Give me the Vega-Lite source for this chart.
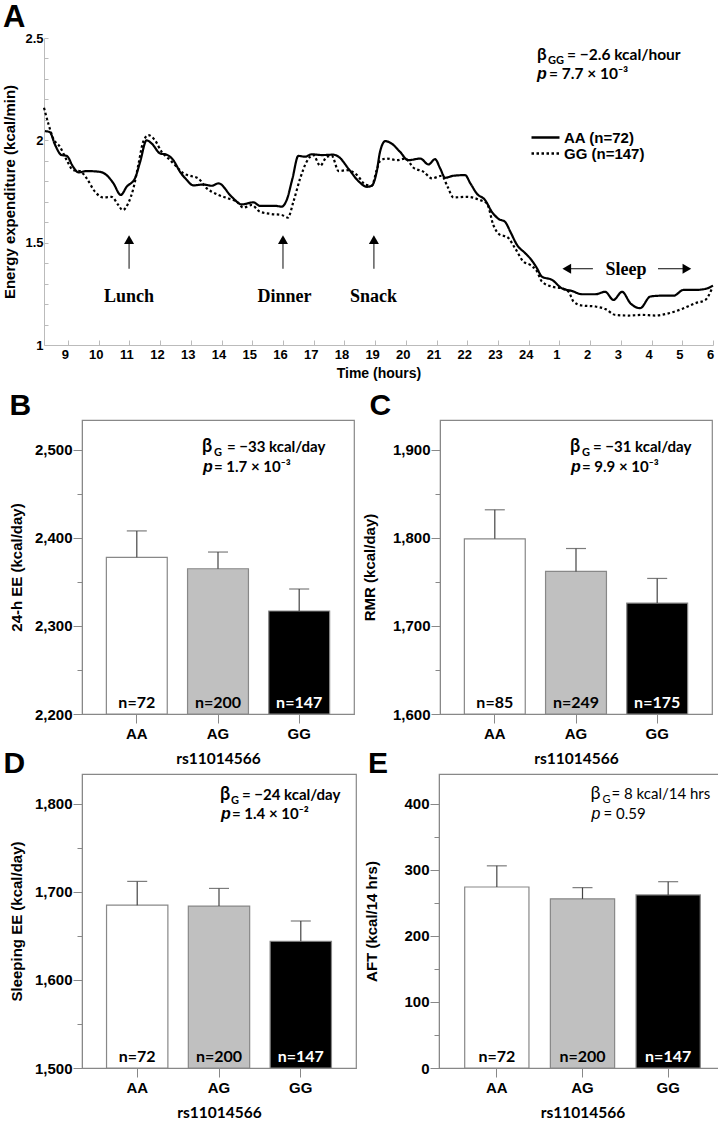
{
  "$schema": "https://vega.github.io/schema/vega-lite/v6.json",
  "padding": {"left": 2, "top": 2, "right": 2, "bottom": 0},
  "background": "white",
  "config": {
    "font": "Liberation Sans",
    "view": {"stroke": null},
    "axis": {"grid": false, "labelColor": "#000", "titleColor": "#000", "labelFontWeight": "bold", "titleFontWeight": "bold", "labelFont": "Liberation Sans", "titleFont": "Liberation Sans", "labelOverlap": false},
    "title": {"anchor": "start", "frame": "bounds", "font": "Liberation Sans", "fontSize": 30, "fontWeight": "bold", "baseline": "alphabetic", "color": "#000"}
  },
  "datasets": {
    "ee": [
      {"geno": "AA (n=72)", "t": 8.25, "v": 2.045}, {"geno": "AA (n=72)", "t": 8.41, "v": 2.04}, {"geno": "AA (n=72)", "t": 8.58, "v": 1.978}, {"geno": "AA (n=72)", "t": 8.79, "v": 1.928}, {"geno": "AA (n=72)", "t": 8.96, "v": 1.924}, {"geno": "AA (n=72)", "t": 9.17, "v": 1.87}, {"geno": "AA (n=72)", "t": 9.34, "v": 1.843}, {"geno": "AA (n=72)", "t": 9.61, "v": 1.85}, {"geno": "AA (n=72)", "t": 10.04, "v": 1.846}, {"geno": "AA (n=72)", "t": 10.26, "v": 1.83}, {"geno": "AA (n=72)", "t": 10.48, "v": 1.79}, {"geno": "AA (n=72)", "t": 10.72, "v": 1.733}, {"geno": "AA (n=72)", "t": 10.91, "v": 1.773}, {"geno": "AA (n=72)", "t": 11.18, "v": 1.814}, {"geno": "AA (n=72)", "t": 11.35, "v": 1.895}, {"geno": "AA (n=72)", "t": 11.56, "v": 2.0}, {"geno": "AA (n=72)", "t": 11.73, "v": 1.984}, {"geno": "AA (n=72)", "t": 12.0, "v": 1.936}, {"geno": "AA (n=72)", "t": 12.21, "v": 1.93}, {"geno": "AA (n=72)", "t": 12.43, "v": 1.903}, {"geno": "AA (n=72)", "t": 12.65, "v": 1.846}, {"geno": "AA (n=72)", "t": 12.87, "v": 1.806}, {"geno": "AA (n=72)", "t": 13.08, "v": 1.78}, {"geno": "AA (n=72)", "t": 13.41, "v": 1.784}, {"geno": "AA (n=72)", "t": 13.68, "v": 1.778}, {"geno": "AA (n=72)", "t": 13.9, "v": 1.79}, {"geno": "AA (n=72)", "t": 14.33, "v": 1.724}, {"geno": "AA (n=72)", "t": 14.66, "v": 1.687}, {"geno": "AA (n=72)", "t": 15.04, "v": 1.697}, {"geno": "AA (n=72)", "t": 15.25, "v": 1.68}, {"geno": "AA (n=72)", "t": 15.74, "v": 1.68}, {"geno": "AA (n=72)", "t": 15.96, "v": 1.676}, {"geno": "AA (n=72)", "t": 16.12, "v": 1.708}, {"geno": "AA (n=72)", "t": 16.31, "v": 1.814}, {"geno": "AA (n=72)", "t": 16.5, "v": 1.924}, {"geno": "AA (n=72)", "t": 16.72, "v": 1.92}, {"geno": "AA (n=72)", "t": 16.94, "v": 1.932}, {"geno": "AA (n=72)", "t": 17.26, "v": 1.928}, {"geno": "AA (n=72)", "t": 17.64, "v": 1.93}, {"geno": "AA (n=72)", "t": 17.81, "v": 1.92}, {"geno": "AA (n=72)", "t": 18.13, "v": 1.862}, {"geno": "AA (n=72)", "t": 18.46, "v": 1.8}, {"geno": "AA (n=72)", "t": 18.73, "v": 1.773}, {"geno": "AA (n=72)", "t": 18.89, "v": 1.778}, {"geno": "AA (n=72)", "t": 19.05, "v": 1.846}, {"geno": "AA (n=72)", "t": 19.16, "v": 1.944}, {"geno": "AA (n=72)", "t": 19.33, "v": 1.996}, {"geno": "AA (n=72)", "t": 19.54, "v": 1.984}, {"geno": "AA (n=72)", "t": 19.81, "v": 1.944}, {"geno": "AA (n=72)", "t": 20.08, "v": 1.903}, {"geno": "AA (n=72)", "t": 20.47, "v": 1.911}, {"geno": "AA (n=72)", "t": 20.74, "v": 1.882}, {"geno": "AA (n=72)", "t": 20.95, "v": 1.908}, {"geno": "AA (n=72)", "t": 21.12, "v": 1.862}, {"geno": "AA (n=72)", "t": 21.28, "v": 1.817}, {"geno": "AA (n=72)", "t": 21.55, "v": 1.827}, {"geno": "AA (n=72)", "t": 21.93, "v": 1.83}, {"geno": "AA (n=72)", "t": 22.1, "v": 1.79}, {"geno": "AA (n=72)", "t": 22.31, "v": 1.74}, {"geno": "AA (n=72)", "t": 22.58, "v": 1.708}, {"geno": "AA (n=72)", "t": 22.8, "v": 1.651}, {"geno": "AA (n=72)", "t": 23.02, "v": 1.616}, {"geno": "AA (n=72)", "t": 23.23, "v": 1.602}, {"geno": "AA (n=72)", "t": 23.4, "v": 1.554}, {"geno": "AA (n=72)", "t": 23.62, "v": 1.489}, {"geno": "AA (n=72)", "t": 23.89, "v": 1.448}, {"geno": "AA (n=72)", "t": 24.05, "v": 1.423}, {"geno": "AA (n=72)", "t": 24.27, "v": 1.375}, {"geno": "AA (n=72)", "t": 24.43, "v": 1.334}, {"geno": "AA (n=72)", "t": 24.76, "v": 1.318}, {"geno": "AA (n=72)", "t": 25.08, "v": 1.277}, {"geno": "AA (n=72)", "t": 25.41, "v": 1.264}, {"geno": "AA (n=72)", "t": 25.73, "v": 1.248}, {"geno": "AA (n=72)", "t": 26.17, "v": 1.248}, {"geno": "AA (n=72)", "t": 26.49, "v": 1.26}, {"geno": "AA (n=72)", "t": 26.76, "v": 1.22}, {"geno": "AA (n=72)", "t": 27.04, "v": 1.26}, {"geno": "AA (n=72)", "t": 27.31, "v": 1.204}, {"geno": "AA (n=72)", "t": 27.63, "v": 1.18}, {"geno": "AA (n=72)", "t": 27.96, "v": 1.237}, {"geno": "AA (n=72)", "t": 28.34, "v": 1.241}, {"geno": "AA (n=72)", "t": 28.72, "v": 1.241}, {"geno": "AA (n=72)", "t": 29.04, "v": 1.269}, {"geno": "AA (n=72)", "t": 29.42, "v": 1.269}, {"geno": "AA (n=72)", "t": 29.75, "v": 1.274}, {"geno": "AA (n=72)", "t": 30.0, "v": 1.29},
      {"geno": "GG (n=147)", "t": 8.22, "v": 2.159}, {"geno": "GG (n=147)", "t": 8.36, "v": 2.082}, {"geno": "GG (n=147)", "t": 8.52, "v": 2.009}, {"geno": "GG (n=147)", "t": 8.74, "v": 1.968}, {"geno": "GG (n=147)", "t": 8.96, "v": 1.903}, {"geno": "GG (n=147)", "t": 9.17, "v": 1.854}, {"geno": "GG (n=147)", "t": 9.39, "v": 1.85}, {"geno": "GG (n=147)", "t": 9.61, "v": 1.814}, {"geno": "GG (n=147)", "t": 9.88, "v": 1.749}, {"geno": "GG (n=147)", "t": 10.15, "v": 1.721}, {"geno": "GG (n=147)", "t": 10.42, "v": 1.724}, {"geno": "GG (n=147)", "t": 10.64, "v": 1.684}, {"geno": "GG (n=147)", "t": 10.78, "v": 1.659}, {"geno": "GG (n=147)", "t": 10.96, "v": 1.692}, {"geno": "GG (n=147)", "t": 11.13, "v": 1.765}, {"geno": "GG (n=147)", "t": 11.29, "v": 1.879}, {"geno": "GG (n=147)", "t": 11.45, "v": 1.993}, {"geno": "GG (n=147)", "t": 11.62, "v": 2.025}, {"geno": "GG (n=147)", "t": 11.83, "v": 2.001}, {"geno": "GG (n=147)", "t": 12.05, "v": 1.944}, {"geno": "GG (n=147)", "t": 12.27, "v": 1.911}, {"geno": "GG (n=147)", "t": 12.54, "v": 1.871}, {"geno": "GG (n=147)", "t": 12.76, "v": 1.838}, {"geno": "GG (n=147)", "t": 12.97, "v": 1.827}, {"geno": "GG (n=147)", "t": 13.24, "v": 1.814}, {"geno": "GG (n=147)", "t": 13.52, "v": 1.765}, {"geno": "GG (n=147)", "t": 13.68, "v": 1.749}, {"geno": "GG (n=147)", "t": 13.9, "v": 1.733}, {"geno": "GG (n=147)", "t": 14.22, "v": 1.716}, {"geno": "GG (n=147)", "t": 14.5, "v": 1.7}, {"geno": "GG (n=147)", "t": 14.71, "v": 1.671}, {"geno": "GG (n=147)", "t": 14.98, "v": 1.684}, {"geno": "GG (n=147)", "t": 15.25, "v": 1.651}, {"geno": "GG (n=147)", "t": 15.63, "v": 1.64}, {"geno": "GG (n=147)", "t": 15.96, "v": 1.635}, {"geno": "GG (n=147)", "t": 16.16, "v": 1.622}, {"geno": "GG (n=147)", "t": 16.34, "v": 1.7}, {"geno": "GG (n=147)", "t": 16.56, "v": 1.814}, {"geno": "GG (n=147)", "t": 16.77, "v": 1.895}, {"geno": "GG (n=147)", "t": 16.99, "v": 1.928}, {"geno": "GG (n=147)", "t": 17.21, "v": 1.876}, {"geno": "GG (n=147)", "t": 17.43, "v": 1.92}, {"geno": "GG (n=147)", "t": 17.59, "v": 1.924}, {"geno": "GG (n=147)", "t": 17.81, "v": 1.85}, {"geno": "GG (n=147)", "t": 18.08, "v": 1.854}, {"geno": "GG (n=147)", "t": 18.41, "v": 1.83}, {"geno": "GG (n=147)", "t": 18.68, "v": 1.784}, {"geno": "GG (n=147)", "t": 18.89, "v": 1.778}, {"geno": "GG (n=147)", "t": 19.05, "v": 1.854}, {"geno": "GG (n=147)", "t": 19.16, "v": 1.899}, {"geno": "GG (n=147)", "t": 19.38, "v": 1.911}, {"geno": "GG (n=147)", "t": 19.71, "v": 1.903}, {"geno": "GG (n=147)", "t": 19.98, "v": 1.911}, {"geno": "GG (n=147)", "t": 20.25, "v": 1.866}, {"geno": "GG (n=147)", "t": 20.58, "v": 1.846}, {"geno": "GG (n=147)", "t": 20.85, "v": 1.814}, {"geno": "GG (n=147)", "t": 21.17, "v": 1.827}, {"geno": "GG (n=147)", "t": 21.36, "v": 1.773}, {"geno": "GG (n=147)", "t": 21.55, "v": 1.721}, {"geno": "GG (n=147)", "t": 21.99, "v": 1.724}, {"geno": "GG (n=147)", "t": 22.42, "v": 1.708}, {"geno": "GG (n=147)", "t": 22.64, "v": 1.692}, {"geno": "GG (n=147)", "t": 22.85, "v": 1.586}, {"geno": "GG (n=147)", "t": 23.07, "v": 1.538}, {"geno": "GG (n=147)", "t": 23.29, "v": 1.529}, {"geno": "GG (n=147)", "t": 23.56, "v": 1.472}, {"geno": "GG (n=147)", "t": 23.83, "v": 1.407}, {"geno": "GG (n=147)", "t": 24.05, "v": 1.391}, {"geno": "GG (n=147)", "t": 24.27, "v": 1.359}, {"geno": "GG (n=147)", "t": 24.43, "v": 1.31}, {"geno": "GG (n=147)", "t": 24.76, "v": 1.285}, {"geno": "GG (n=147)", "t": 25.08, "v": 1.277}, {"geno": "GG (n=147)", "t": 25.3, "v": 1.26}, {"geno": "GG (n=147)", "t": 25.46, "v": 1.212}, {"geno": "GG (n=147)", "t": 25.73, "v": 1.193}, {"geno": "GG (n=147)", "t": 26.17, "v": 1.188}, {"geno": "GG (n=147)", "t": 26.49, "v": 1.176}, {"geno": "GG (n=147)", "t": 26.82, "v": 1.147}, {"geno": "GG (n=147)", "t": 27.25, "v": 1.144}, {"geno": "GG (n=147)", "t": 27.69, "v": 1.147}, {"geno": "GG (n=147)", "t": 28.12, "v": 1.144}, {"geno": "GG (n=147)", "t": 28.56, "v": 1.155}, {"geno": "GG (n=147)", "t": 28.99, "v": 1.176}, {"geno": "GG (n=147)", "t": 29.42, "v": 1.204}, {"geno": "GG (n=147)", "t": 29.75, "v": 1.22}, {"geno": "GG (n=147)", "t": 29.97, "v": 1.277}
    ]
  },
  "spacing": 10,
  "vconcat": [
    {
      "width": 631,
      "height": 307,
      "title": {"text": "A", "offset": -2, "fontSize": 31},
      "layer": [
        {
          "data": {"name": "ee"},
          "mark": {"type": "line", "interpolate": "monotone", "color": "#000", "strokeWidth": 2.2},
          "encoding": {
            "x": {"field": "t", "type": "quantitative", "scale": {"domain": [8.22, 30], "range": [-38, 631], "nice": false, "zero": false},
              "axis": {"title": "Time (hours)", "labelOverlap": false, "tickCount": 100, "values": [9,10,11,12,13,14,15,16,17,18,19,20,21,22,23,24,25,26,27,28,29,30], "labelExpr": "'' + (datum.value > 24 ? datum.value - 24 : datum.value)", "tickSize": -5, "labelPadding": 8, "labelOffset": -3, "labelFlush": false, "domainColor": "#bbb", "tickColor": "#bbb", "labelFontSize": 13, "titleFontSize": 14, "titlePadding": 5}},
            "y": {"field": "v", "type": "quantitative", "scale": {"domain": [1, 2.5], "nice": false, "zero": false},
              "axis": {"title": "Energy expenditure (kcal/min)", "labelOverlap": false, "tickCount": 100, "offset": 38, "values": [1,1.1,1.2,1.3,1.4,1.5,1.6,1.7,1.8,1.9,2,2.1,2.2,2.3,2.4,2.5], "labelExpr": "abs(datum.value*2 - round(datum.value*2)) < 0.001 ? format(datum.value, '.1~f') : ''", "tickSize": -4, "labelPadding": 5, "labelFlush": false, "domainColor": "#bbb", "tickColor": "#bbb", "labelFontSize": 13, "titleFontSize": 15, "titlePadding": 7}},
            "strokeDash": {"field": "geno", "type": "nominal", "scale": {"domain": ["AA (n=72)", "GG (n=147)"], "range": [[1, 0], [2.5, 2.5]]},
              "legend": {"title": null, "orient": "none", "legendX": 448, "legendY": 92, "symbolType": "stroke", "symbolSize": 784, "symbolStrokeWidth": 2.3, "symbolStrokeColor": "#000", "labelFont": "Liberation Sans", "labelFontSize": 15, "labelFontWeight": "bold", "labelColor": "#000", "clipHeight": 15, "rowPadding": 0, "labelOffset": 3, "padding": 0}}
          }
        },
        {
          "data": {"values": [{"t": 10.99, "v": 1.373, "v2": 1.5}, {"t": 16.0, "v": 1.373, "v2": 1.5}, {"t": 18.96, "v": 1.373, "v2": 1.5}]},
          "mark": {"type": "rule", "color": "#444", "strokeWidth": 1.3},
          "encoding": {"x": {"field": "t", "type": "quantitative"}, "y": {"field": "v", "type": "quantitative"}, "y2": {"field": "v2"}}
        },
        {
          "data": {"values": [{"t": 10.99, "v": 1.515}, {"t": 16.0, "v": 1.515}, {"t": 18.96, "v": 1.515}]},
          "mark": {"type": "point", "shape": "triangle-up", "filled": true, "size": 100, "color": "#000", "opacity": 1},
          "encoding": {"x": {"field": "t", "type": "quantitative"}, "y": {"field": "v", "type": "quantitative"}}
        },
        {
          "data": {"values": [{"t": 10.99, "v": 1.212, "txt": "Lunch"}, {"t": 16.05, "v": 1.212, "txt": "Dinner"}, {"t": 18.95, "v": 1.212, "txt": "Snack"}, {"t": 27.17, "v": 1.344, "txt": "Sleep"}]},
          "mark": {"type": "text", "font": "Liberation Serif", "fontWeight": "bold", "fontSize": 18, "baseline": "alphabetic", "align": "center", "color": "#000"},
          "encoding": {"x": {"field": "t", "type": "quantitative"}, "y": {"field": "v", "type": "quantitative"}, "text": {"field": "txt"}}
        },
        {
          "data": {"values": [{"t": 25.22, "t2": 26.09, "v": 1.373}, {"t": 28.21, "t2": 29.16, "v": 1.373}]},
          "mark": {"type": "rule", "color": "#444", "strokeWidth": 1.3},
          "encoding": {"x": {"field": "t", "type": "quantitative"}, "x2": {"field": "t2"}, "y": {"field": "v", "type": "quantitative"}}
        },
        {
          "data": {"values": [{"t": 25.24, "v": 1.373, "dir": "left"}, {"t": 29.15, "v": 1.373, "dir": "right"}]},
          "mark": {"type": "point", "filled": true, "size": 100, "color": "#000", "opacity": 1},
          "encoding": {"x": {"field": "t", "type": "quantitative"}, "y": {"field": "v", "type": "quantitative"}, "shape": {"field": "dir", "type": "nominal", "scale": {"domain": ["left", "right"], "range": ["triangle-left", "triangle-right"]}, "legend": null}}
        },
        {
          "data": {"values": [{"t": 24.27, "v": 2.391, "txt": "β"}]},
          "mark": {"type": "text", "font": "Lato", "fontWeight": "bold", "fontSize": 17, "align": "left", "baseline": "alphabetic", "color": "#000"},
          "encoding": {"x": {"field": "t", "type": "quantitative"}, "y": {"field": "v", "type": "quantitative"}, "text": {"field": "txt"}}
        },
        {
          "data": {"values": [{"t": 24.27, "v": 2.298, "txt": "p"}]},
          "mark": {"type": "text", "font": "Liberation Sans", "fontWeight": "bold", "fontStyle": "italic", "fontSize": 16, "align": "left", "baseline": "alphabetic", "color": "#000"},
          "encoding": {"x": {"field": "t", "type": "quantitative"}, "y": {"field": "v", "type": "quantitative"}, "text": {"field": "txt"}}
        },
        {
          "data": {"values": [{"t": 24.27, "v": 2.391, "txt": "GG"}]},
          "mark": {"type": "text", "font": "Lato", "fontWeight": "bold", "fontSize": 11, "align": "left", "baseline": "alphabetic", "dx": 11, "dy": 4, "color": "#000"},
          "encoding": {"x": {"field": "t", "type": "quantitative"}, "y": {"field": "v", "type": "quantitative"}, "text": {"field": "txt"}}
        },
        {
          "data": {"values": [{"t": 24.27, "v": 2.391, "txt": "= −2.6 kcal/hour"}]},
          "mark": {"type": "text", "font": "Lato", "fontWeight": "bold", "fontSize": 15.5, "align": "left", "baseline": "alphabetic", "dx": 30, "color": "#000"},
          "encoding": {"x": {"field": "t", "type": "quantitative"}, "y": {"field": "v", "type": "quantitative"}, "text": {"field": "txt"}}
        },
        {
          "data": {"values": [{"t": 24.27, "v": 2.298, "txt": "= 7.7 × 10⁻³"}]},
          "mark": {"type": "text", "font": "Lato", "fontWeight": "bold", "fontSize": 15.5, "align": "left", "baseline": "alphabetic", "dx": 12, "color": "#000"},
          "encoding": {"x": {"field": "t", "type": "quantitative"}, "y": {"field": "v", "type": "quantitative"}, "text": {"field": "txt"}}
        }
      ]
    },
    {
      "spacing": -20,
      "vconcat": [
        {
          "spacing": 6,
          "hconcat": [
            {
              "width": 272, "height": 294,
              "title": {"text": "B", "offset": -1},
              "view": {"stroke": "#888", "strokeWidth": 1.2},
              "data": {"values": [{"g": "AA", "m": 2378, "u": 2408, "n": "n=72"}, {"g": "AG", "m": 2365, "u": 2384, "n": "n=200"}, {"g": "GG", "m": 2317, "u": 2342, "n": "n=147"}]},
              "layer": [
                {"mark": {"type": "bar", "stroke": "#888", "strokeWidth": 1.2},
                 "encoding": {
                   "x": {"field": "g", "type": "nominal", "sort": null, "scale": {"paddingInner": 0.25, "paddingOuter": 0.3}, "axis": {"title": "rs11014566", "titleFont": "Lato", "titleFontSize": 15.5, "labelFontSize": 15, "labelAngle": 0, "tickSize": 9, "tickColor": "#888", "domainColor": "#888", "labelPadding": 3, "titlePadding": 10}},
                   "y": {"field": "m", "type": "quantitative", "scale": {"domain": [2200, 2534], "nice": false, "zero": false}, "axis": {"title": "24-h EE (kcal/day)", "labelOverlap": false, "tickCount": 100, "values": [2200, 2250, 2300, 2350, 2400, 2450, 2500], "labelExpr": "datum.value % 100 === 0 ? format(datum.value, ',') : ''", "tickSize": {"condition": {"test": "datum.value % 100 === 0", "value": 9}, "value": 5}, "tickColor": "#888", "domainColor": "#888", "labelFontSize": 15, "titleFontSize": 15, "labelPadding": 1, "titlePadding": 10}},
                   "y2": {"datum": 2200},
                   "fill": {"field": "g", "type": "nominal", "scale": {"domain": ["AA", "AG", "GG"], "range": ["#ffffff", "#c0c0c0", "#000000"]}, "legend": null}
                 }},
                {"mark": {"type": "rule", "color": "#444", "strokeWidth": 1.2}, "encoding": {"x": {"field": "g", "type": "nominal"}, "y": {"field": "m", "type": "quantitative"}, "y2": {"field": "u"}}},
                {"mark": {"type": "tick", "color": "#444", "size": 20, "thickness": 1.2}, "encoding": {"x": {"field": "g", "type": "nominal"}, "y": {"field": "u", "type": "quantitative"}}},
                {"mark": {"type": "text", "font": "Lato", "fontWeight": "bold", "fontSize": 16, "baseline": "alphabetic", "dy": -6}, "encoding": {"x": {"field": "g", "type": "nominal"}, "y": {"datum": 2200}, "text": {"field": "n"}, "color": {"condition": {"test": "datum.g === 'GG'", "value": "#fff"}, "value": "#000"}}},
                {"data": {"values": [{"g": "AG", "m": 2497.7, "txt": "β"}]},
                 "mark": {"type": "text", "font": "Lato", "fontWeight": "bold", "fontSize": 18, "align": "left", "baseline": "alphabetic", "dx": -16, "color": "#000"},
                 "encoding": {"x": {"field": "g", "type": "nominal"}, "y": {"field": "m", "type": "quantitative"}, "text": {"field": "txt"}}},
                {"data": {"values": [{"g": "AG", "m": 2475, "txt": "p"}]},
                 "mark": {"type": "text", "font": "Liberation Sans", "fontWeight": "bold", "fontStyle": "italic", "fontSize": 16, "align": "left", "baseline": "alphabetic", "dx": -15, "color": "#000"},
                 "encoding": {"x": {"field": "g", "type": "nominal"}, "y": {"field": "m", "type": "quantitative"}, "text": {"field": "txt"}}},
                {"data": {"values": [{"g": "AG", "m": 2497.7, "txt": "G"}]},
                 "mark": {"type": "text", "font": "Lato", "fontWeight": "bold", "fontSize": 11, "align": "left", "baseline": "alphabetic", "dx": -4, "dy": 4, "color": "#000"},
                 "encoding": {"x": {"field": "g", "type": "nominal"}, "y": {"field": "m", "type": "quantitative"}, "text": {"field": "txt"}}},
                {"data": {"values": [{"g": "AG", "m": 2497.7, "txt": "= −33 kcal/day"}]},
                 "mark": {"type": "text", "font": "Lato", "fontWeight": "bold", "fontSize": 15, "align": "left", "baseline": "alphabetic", "dx": 9, "color": "#000"},
                 "encoding": {"x": {"field": "g", "type": "nominal"}, "y": {"field": "m", "type": "quantitative"}, "text": {"field": "txt"}}},
                {"data": {"values": [{"g": "AG", "m": 2475, "txt": "= 1.7 × 10⁻³"}]},
                 "mark": {"type": "text", "font": "Lato", "fontWeight": "bold", "fontSize": 15, "align": "left", "baseline": "alphabetic", "dx": -4, "color": "#000"},
                 "encoding": {"x": {"field": "g", "type": "nominal"}, "y": {"field": "m", "type": "quantitative"}, "text": {"field": "txt"}}}
              ]
            },
            {
              "width": 272, "height": 294,
              "title": {"text": "C", "offset": -1, "dx": 7},
              "view": {"stroke": "#888", "strokeWidth": 1.2},
              "data": {"values": [{"g": "AA", "m": 1799, "u": 1832, "n": "n=85"}, {"g": "AG", "m": 1762, "u": 1788, "n": "n=249"}, {"g": "GG", "m": 1726, "u": 1754, "n": "n=175"}]},
              "layer": [
                {"mark": {"type": "bar", "stroke": "#888", "strokeWidth": 1.2},
                 "encoding": {
                   "x": {"field": "g", "type": "nominal", "sort": null, "scale": {"paddingInner": 0.25, "paddingOuter": 0.3}, "axis": {"title": "rs11014566", "titleFont": "Lato", "titleFontSize": 15.5, "labelFontSize": 15, "labelAngle": 0, "tickSize": 9, "tickColor": "#888", "domainColor": "#888", "labelPadding": 3, "titlePadding": 10}},
                   "y": {"field": "m", "type": "quantitative", "scale": {"domain": [1600, 1934], "nice": false, "zero": false}, "axis": {"title": "RMR (kcal/day)", "labelOverlap": false, "tickCount": 100, "values": [1600, 1650, 1700, 1750, 1800, 1850, 1900], "labelExpr": "datum.value % 100 === 0 ? format(datum.value, ',') : ''", "tickSize": {"condition": {"test": "datum.value % 100 === 0", "value": 9}, "value": 5}, "tickColor": "#888", "domainColor": "#888", "labelFontSize": 15, "titleFontSize": 15, "labelPadding": 1, "titlePadding": 15}},
                   "y2": {"datum": 1600},
                   "fill": {"field": "g", "type": "nominal", "scale": {"domain": ["AA", "AG", "GG"], "range": ["#ffffff", "#c0c0c0", "#000000"]}, "legend": null}
                 }},
                {"mark": {"type": "rule", "color": "#444", "strokeWidth": 1.2}, "encoding": {"x": {"field": "g", "type": "nominal"}, "y": {"field": "m", "type": "quantitative"}, "y2": {"field": "u"}}},
                {"mark": {"type": "tick", "color": "#444", "size": 20, "thickness": 1.2}, "encoding": {"x": {"field": "g", "type": "nominal"}, "y": {"field": "u", "type": "quantitative"}}},
                {"mark": {"type": "text", "font": "Lato", "fontWeight": "bold", "fontSize": 16, "baseline": "alphabetic", "dy": -6}, "encoding": {"x": {"field": "g", "type": "nominal"}, "y": {"datum": 1600}, "text": {"field": "n"}, "color": {"condition": {"test": "datum.g === 'GG'", "value": "#fff"}, "value": "#000"}}},
                {"data": {"values": [{"g": "AG", "m": 1897.7, "txt": "β"}]},
                 "mark": {"type": "text", "font": "Lato", "fontWeight": "bold", "fontSize": 18, "align": "left", "baseline": "alphabetic", "dx": -6, "color": "#000"},
                 "encoding": {"x": {"field": "g", "type": "nominal"}, "y": {"field": "m", "type": "quantitative"}, "text": {"field": "txt"}}},
                {"data": {"values": [{"g": "AG", "m": 1875, "txt": "p"}]},
                 "mark": {"type": "text", "font": "Liberation Sans", "fontWeight": "bold", "fontStyle": "italic", "fontSize": 16, "align": "left", "baseline": "alphabetic", "dx": -5, "color": "#000"},
                 "encoding": {"x": {"field": "g", "type": "nominal"}, "y": {"field": "m", "type": "quantitative"}, "text": {"field": "txt"}}},
                {"data": {"values": [{"g": "AG", "m": 1897.7, "txt": "G"}]},
                 "mark": {"type": "text", "font": "Lato", "fontWeight": "bold", "fontSize": 11, "align": "left", "baseline": "alphabetic", "dx": 6, "dy": 4, "color": "#000"},
                 "encoding": {"x": {"field": "g", "type": "nominal"}, "y": {"field": "m", "type": "quantitative"}, "text": {"field": "txt"}}},
                {"data": {"values": [{"g": "AG", "m": 1897.7, "txt": "= −31 kcal/day"}]},
                 "mark": {"type": "text", "font": "Lato", "fontWeight": "bold", "fontSize": 15, "align": "left", "baseline": "alphabetic", "dx": 17, "color": "#000"},
                 "encoding": {"x": {"field": "g", "type": "nominal"}, "y": {"field": "m", "type": "quantitative"}, "text": {"field": "txt"}}},
                {"data": {"values": [{"g": "AG", "m": 1875, "txt": "= 9.9 × 10⁻³"}]},
                 "mark": {"type": "text", "font": "Lato", "fontWeight": "bold", "fontSize": 15, "align": "left", "baseline": "alphabetic", "dx": 6, "color": "#000"},
                 "encoding": {"x": {"field": "g", "type": "nominal"}, "y": {"field": "m", "type": "quantitative"}, "text": {"field": "txt"}}}
              ]
            }
          ]
        },
        {
          "spacing": 7,
          "hconcat": [
            {
              "width": 274, "height": 294,
              "title": {"text": "D", "offset": -5, "dx": -6},
              "view": {"stroke": "#888", "strokeWidth": 1.2},
              "data": {"values": [{"g": "AA", "m": 1685, "u": 1712, "n": "n=72"}, {"g": "AG", "m": 1684, "u": 1704, "n": "n=200"}, {"g": "GG", "m": 1644, "u": 1667, "n": "n=147"}]},
              "layer": [
                {"mark": {"type": "bar", "stroke": "#888", "strokeWidth": 1.2},
                 "encoding": {
                   "x": {"field": "g", "type": "nominal", "sort": null, "scale": {"paddingInner": 0.25, "paddingOuter": 0.3}, "axis": {"title": "rs11014566", "titleFont": "Lato", "titleFontSize": 15.5, "labelFontSize": 15, "labelAngle": 0, "tickSize": 9, "tickColor": "#888", "domainColor": "#888", "labelPadding": 3, "titlePadding": 10}},
                   "y": {"field": "m", "type": "quantitative", "scale": {"domain": [1500, 1834], "nice": false, "zero": false}, "axis": {"title": "Sleeping EE (kcal/day)", "labelOverlap": false, "tickCount": 100, "values": [1500, 1550, 1600, 1650, 1700, 1750, 1800], "labelExpr": "datum.value % 100 === 0 ? format(datum.value, ',') : ''", "tickSize": {"condition": {"test": "datum.value % 100 === 0", "value": 9}, "value": 5}, "tickColor": "#888", "domainColor": "#888", "labelFontSize": 15, "titleFontSize": 15, "labelPadding": 1, "titlePadding": 10}},
                   "y2": {"datum": 1500},
                   "fill": {"field": "g", "type": "nominal", "scale": {"domain": ["AA", "AG", "GG"], "range": ["#ffffff", "#c0c0c0", "#000000"]}, "legend": null}
                 }},
                {"mark": {"type": "rule", "color": "#444", "strokeWidth": 1.2}, "encoding": {"x": {"field": "g", "type": "nominal"}, "y": {"field": "m", "type": "quantitative"}, "y2": {"field": "u"}}},
                {"mark": {"type": "tick", "color": "#444", "size": 20, "thickness": 1.2}, "encoding": {"x": {"field": "g", "type": "nominal"}, "y": {"field": "u", "type": "quantitative"}}},
                {"mark": {"type": "text", "font": "Lato", "fontWeight": "bold", "fontSize": 16, "baseline": "alphabetic", "dy": -6}, "encoding": {"x": {"field": "g", "type": "nominal"}, "y": {"datum": 1500}, "text": {"field": "n"}, "color": {"condition": {"test": "datum.g === 'GG'", "value": "#fff"}, "value": "#000"}}},
                {"data": {"values": [{"g": "AG", "m": 1804.5, "txt": "β"}]},
                 "mark": {"type": "text", "font": "Lato", "fontWeight": "bold", "fontSize": 18, "align": "left", "baseline": "alphabetic", "dx": 1, "color": "#000"},
                 "encoding": {"x": {"field": "g", "type": "nominal"}, "y": {"field": "m", "type": "quantitative"}, "text": {"field": "txt"}}},
                {"data": {"values": [{"g": "AG", "m": 1783, "txt": "p"}]},
                 "mark": {"type": "text", "font": "Liberation Sans", "fontWeight": "bold", "fontStyle": "italic", "fontSize": 16, "align": "left", "baseline": "alphabetic", "dx": 2, "color": "#000"},
                 "encoding": {"x": {"field": "g", "type": "nominal"}, "y": {"field": "m", "type": "quantitative"}, "text": {"field": "txt"}}},
                {"data": {"values": [{"g": "AG", "m": 1804.5, "txt": "G"}]},
                 "mark": {"type": "text", "font": "Lato", "fontWeight": "bold", "fontSize": 11, "align": "left", "baseline": "alphabetic", "dx": 12, "dy": 4, "color": "#000"},
                 "encoding": {"x": {"field": "g", "type": "nominal"}, "y": {"field": "m", "type": "quantitative"}, "text": {"field": "txt"}}},
                {"data": {"values": [{"g": "AG", "m": 1804.5, "txt": "= −24 kcal/day"}]},
                 "mark": {"type": "text", "font": "Lato", "fontWeight": "bold", "fontSize": 15, "align": "left", "baseline": "alphabetic", "dx": 23, "color": "#000"},
                 "encoding": {"x": {"field": "g", "type": "nominal"}, "y": {"field": "m", "type": "quantitative"}, "text": {"field": "txt"}}},
                {"data": {"values": [{"g": "AG", "m": 1783, "txt": "= 1.4 × 10⁻²"}]},
                 "mark": {"type": "text", "font": "Lato", "fontWeight": "bold", "fontSize": 15, "align": "left", "baseline": "alphabetic", "dx": 13, "color": "#000"},
                 "encoding": {"x": {"field": "g", "type": "nominal"}, "y": {"field": "m", "type": "quantitative"}, "text": {"field": "txt"}}}
              ]
            },
            {
              "width": 287, "height": 294,
              "title": {"text": "E", "offset": -5, "dx": 3},
              "view": {"stroke": "#888", "strokeWidth": 1.2},
              "data": {"values": [{"g": "AA", "m": 274, "u": 306, "n": "n=72"}, {"g": "AG", "m": 256, "u": 273, "n": "n=200"}, {"g": "GG", "m": 262, "u": 282, "n": "n=147"}]},
              "layer": [
                {"mark": {"type": "bar", "stroke": "#888", "strokeWidth": 1.2},
                 "encoding": {
                   "x": {"field": "g", "type": "nominal", "sort": null, "scale": {"paddingInner": 0.25, "paddingOuter": 0.3}, "axis": {"title": "rs11014566", "titleFont": "Lato", "titleFontSize": 15.5, "labelFontSize": 15, "labelAngle": 0, "tickSize": 9, "tickColor": "#888", "domainColor": "#888", "labelPadding": 3, "titlePadding": 10}},
                   "y": {"field": "m", "type": "quantitative", "scale": {"domain": [0, 445], "nice": false, "zero": false}, "axis": {"title": "AFT (kcal/14 hrs)", "labelOverlap": false, "tickCount": 100, "values": [0, 50, 100, 150, 200, 250, 300, 350, 400], "labelExpr": "datum.value % 100 === 0 ? format(datum.value, ',') : ''", "tickSize": {"condition": {"test": "datum.value % 100 === 0", "value": 9}, "value": 5}, "tickColor": "#888", "domainColor": "#888", "labelFontSize": 15, "titleFontSize": 15, "labelPadding": 1, "titlePadding": 24}},
                   "y2": {"datum": 0},
                   "fill": {"field": "g", "type": "nominal", "scale": {"domain": ["AA", "AG", "GG"], "range": ["#ffffff", "#c0c0c0", "#000000"]}, "legend": null}
                 }},
                {"mark": {"type": "rule", "color": "#444", "strokeWidth": 1.2}, "encoding": {"x": {"field": "g", "type": "nominal"}, "y": {"field": "m", "type": "quantitative"}, "y2": {"field": "u"}}},
                {"mark": {"type": "tick", "color": "#444", "size": 20, "thickness": 1.2}, "encoding": {"x": {"field": "g", "type": "nominal"}, "y": {"field": "u", "type": "quantitative"}}},
                {"mark": {"type": "text", "font": "Lato", "fontWeight": "bold", "fontSize": 16, "baseline": "alphabetic", "dy": -6}, "encoding": {"x": {"field": "g", "type": "nominal"}, "y": {"datum": 0}, "text": {"field": "n"}, "color": {"condition": {"test": "datum.g === 'GG'", "value": "#fff"}, "value": "#000"}}},
                {"data": {"values": [{"g": "AG", "m": 407, "txt": "β"}]},
                 "mark": {"type": "text", "font": "Lato", "fontSize": 18, "align": "left", "baseline": "alphabetic", "dx": 8, "color": "#000"},
                 "encoding": {"x": {"field": "g", "type": "nominal"}, "y": {"field": "m", "type": "quantitative"}, "text": {"field": "txt"}}},
                {"data": {"values": [{"g": "AG", "m": 377, "txt": "p"}]},
                 "mark": {"type": "text", "font": "Liberation Sans", "fontStyle": "italic", "fontSize": 16, "align": "left", "baseline": "alphabetic", "dx": 9, "color": "#000"},
                 "encoding": {"x": {"field": "g", "type": "nominal"}, "y": {"field": "m", "type": "quantitative"}, "text": {"field": "txt"}}},
                {"data": {"values": [{"g": "AG", "m": 407, "txt": "G"}]},
                 "mark": {"type": "text", "font": "Lato", "fontSize": 11, "align": "left", "baseline": "alphabetic", "dx": 20, "dy": 4, "color": "#000"},
                 "encoding": {"x": {"field": "g", "type": "nominal"}, "y": {"field": "m", "type": "quantitative"}, "text": {"field": "txt"}}},
                {"data": {"values": [{"g": "AG", "m": 407, "txt": "= 8 kcal/14 hrs"}]},
                 "mark": {"type": "text", "font": "Lato", "fontSize": 15, "align": "left", "baseline": "alphabetic", "dx": 29, "color": "#000"},
                 "encoding": {"x": {"field": "g", "type": "nominal"}, "y": {"field": "m", "type": "quantitative"}, "text": {"field": "txt"}}},
                {"data": {"values": [{"g": "AG", "m": 377, "txt": "= 0.59"}]},
                 "mark": {"type": "text", "font": "Lato", "fontSize": 15, "align": "left", "baseline": "alphabetic", "dx": 21, "color": "#000"},
                 "encoding": {"x": {"field": "g", "type": "nominal"}, "y": {"field": "m", "type": "quantitative"}, "text": {"field": "txt"}}}
              ]
            }
          ]
        }
      ]
    }
  ]
}
